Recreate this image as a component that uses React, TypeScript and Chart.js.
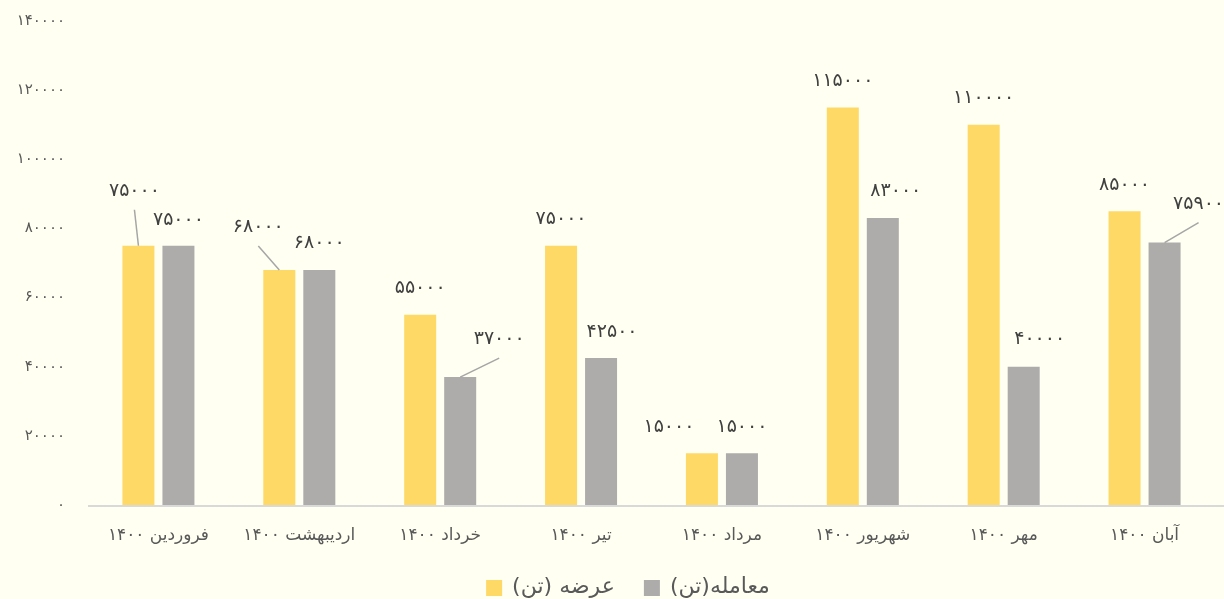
import React, { useEffect, useRef } from "react";
import { Chart, registerables } from "chart.js";

Chart.register(...registerables);

const categories = ["فروردین ۱۴۰۰", "اردیبهشت ۱۴۰۰", "خرداد ۱۴۰۰", "تیر ۱۴۰۰", "مرداد ۱۴۰۰", "شهریور ۱۴۰۰", "مهر ۱۴۰۰", "آبان ۱۴۰۰"];
const supplyLabel = "عرضه (تن)";
const dealLabel = "معامله(تن)";
const supplyValues = [75000, 68000, 55000, 75000, 15000, 115000, 110000, 85000];
const dealValues = [75000, 68000, 37000, 42500, 15000, 83000, 40000, 75900];
const yTicks = [0, 20000, 40000, 60000, 80000, 100000, 120000, 140000];

const FONT = "'DejaVu Sans', sans-serif";
const faDigits = "۰۱۲۳۴۵۶۷۸۹";
const toFa = (n: number) => String(n).replace(/\d/g, (d) => faDigits[Number(d)]);

// label placement (offset from bar top centre) and whether a leader line is drawn
const labelOffsets = [
  [[-4, -55], [-21, -43], [0, -27], [0, -27], [-33, -26], [0, -26], [0, -27], [0, -26]],
  [[0, -26], [0, -27], [39, -38], [11, -26], [0, -26], [13, -27], [16, -28], [34, -39]],
];
const leaders = [
  [true, true, false, false, false, false, false, false],
  [false, false, true, false, false, false, false, true],
];

const labelPlugin = {
  id: "barLabels",
  afterDatasetsDraw(chart: any) {
    const ctx = chart.ctx;
    ctx.save();
    chart.data.datasets.forEach((ds: any, di: number) => {
      const meta = chart.getDatasetMeta(di);
      meta.data.forEach((bar: any, i: number) => {
        const [dx, dy] = labelOffsets[di][i];
        const lx = bar.x + dx;
        const ly = bar.y + dy;
        if (leaders[di][i]) {
          ctx.strokeStyle = "#A6A6A6";
          ctx.lineWidth = 1.5;
          ctx.beginPath();
          ctx.moveTo(lx, ly + 19);
          ctx.lineTo(bar.x, bar.y);
          ctx.stroke();
        }
        ctx.fillStyle = "#404040";
        ctx.font = `19px ${FONT}`;
        ctx.textAlign = "center";
        ctx.textBaseline = "middle";
        ctx.fillText(toFa(ds.data[i]), lx, ly);
      });
    });
    ctx.restore();
  },
};

const legendPlugin = {
  id: "customLegend",
  afterDraw(chart: any) {
    const ctx = chart.ctx;
    ctx.save();
    ctx.font = `22px ${FONT}`;
    ctx.textBaseline = "middle";
    ctx.textAlign = "left";
    const box = 16, gap = 10, itemGap = 29;
    const items = chart.data.datasets.map((ds: any) => ({ label: ds.label, color: ds.backgroundColor, w: ctx.measureText(ds.label).width }));
    const total = items.reduce((s: number, it: any) => s + box + gap + it.w, 0) + itemGap * (items.length - 1);
    let x = 628 - total / 2;
    const cy = 587;
    items.forEach((it: any) => {
      ctx.fillStyle = it.color;
      ctx.fillRect(x, cy - box / 2 + 1, box, box);
      x += box + gap;
      ctx.fillStyle = "#595959";
      ctx.fillText(it.label, x, cy);
      x += it.w + itemGap;
    });
    ctx.restore();
  },
};

const axisLinePlugin = {
  id: "axisLine",
  beforeDatasetsDraw(chart: any) {
    const { ctx, chartArea } = chart;
    ctx.save();
    ctx.strokeStyle = "#D9D9D9";
    ctx.lineWidth = 2;
    ctx.beginPath();
    ctx.moveTo(chartArea.left, chartArea.bottom + 1);
    ctx.lineTo(chart.width, chartArea.bottom + 1);
    ctx.stroke();
    ctx.restore();
  },
};

const bgPlugin = {
  id: "bg",
  beforeDraw(chart: any) {
    const ctx = chart.ctx;
    ctx.save();
    ctx.fillStyle = "#FFFFF2";
    ctx.fillRect(0, 0, chart.width, chart.height);
    ctx.restore();
  },
};

export default function App() {
  const ref = useRef<HTMLCanvasElement>(null);
  useEffect(() => {
    document.body.style.margin = "0";
    document.body.style.background = "#FFFFF2";
    const chart = new Chart(ref.current!, {
      type: "bar",
      data: {
        labels: categories,
        datasets: [
          { label: supplyLabel, data: supplyValues, backgroundColor: "#FFD966", barPercentage: 0.8, categoryPercentage: 0.568 },
          { label: dealLabel, data: dealValues, backgroundColor: "#AEABAB", barPercentage: 0.8, categoryPercentage: 0.568 },
        ],
      },
      options: {
        animation: false,
        responsive: false,
        layout: { padding: { top: 21, right: 9, left: 0, bottom: 54 } },
        plugins: {
          legend: { display: false },
          tooltip: { enabled: false },
          title: { display: false },
        },
        scales: {
          x: {
            afterFit: (s: any) => { s.height = 40; s.paddingLeft = 0; s.paddingRight = 0; },
            grid: { display: false },
            border: { display: false },
            ticks: { color: "#595959", font: { family: FONT, size: 17 }, padding: 12, maxRotation: 0 },
          },
          y: {
            min: 0,
            max: 140000,
            afterFit: (s: any) => { s.width = 88; s.paddingTop = 0; s.paddingBottom = 0; },
            afterBuildTicks: (s: any) => { s.ticks = yTicks.map((v) => ({ value: v })); },
            grid: { display: false, drawTicks: false },
            border: { display: false },
            ticks: {
              color: "#595959",
              font: { family: FONT, size: 15 },
              padding: 23,
              callback: (v: any) => toFa(Number(v)),
            },
          },
        },
      },
      plugins: [bgPlugin, axisLinePlugin, labelPlugin, legendPlugin],
    });
    return () => chart.destroy();
  }, []);
  return (
    <div style={{ width: 1224, height: 599, background: "#FFFFF2" }}>
      <canvas ref={ref} width={1224} height={599} style={{ display: "block" }} />
    </div>
  );
}
